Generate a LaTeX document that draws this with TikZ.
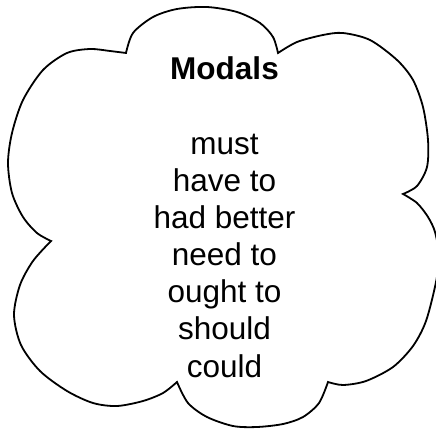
\documentclass[tikz,border=0pt]{standalone}
\usepackage{fontspec}
\setmainfont{Liberation Sans}
\begin{document}
\begin{tikzpicture}[x=1pt,y=-1pt,
  cloudline/.style={draw=black,line width=1.8pt,line join=miter,fill=white},
  modaltext/.style={anchor=base,inner sep=0pt,font=\fontsize{31.5}{37}\selectfont}]
\useasboundingbox (0,0) rectangle (436,428);
\draw[cloudline]
  plot[smooth] coordinates {(126,53) (133,33) (153,17) (177,9) (207,7) (237,12) (260,23) (273,37) (278,53)}
  -- plot[smooth] coordinates {(278,53) (297,42) (323,35) (343,33) (370,40) (397,60) (413,80) (423,107) (428,140) (427,167) (417,186) (403,194)}
  -- plot[smooth] coordinates {(403,194) (417,203) (428,217) (435,232) (439,256) (436,282) (426,321) (413,346) (393,367) (366,381) (343,385) (328,382)}
  -- plot[smooth] coordinates {(328,382) (319,403) (303,417) (283,424) (257,427) (233,426) (207,417) (188,403) (177,382)}
  -- plot[smooth] coordinates {(177,382) (163,393) (143,401) (117,406) (93,403) (67,391) (40,371) (21,345) (14,315) (20,285) (33,261) (51,241)}
  -- plot[smooth] coordinates {(51,241) (37,233) (23,217) (12,193) (8,163) (12,133) (23,100) (43,70) (67,53) (90,49) (110,51) (126,53)}
  -- cycle;
\node[modaltext,font=\fontsize{31.5}{37}\selectfont\bfseries] (title) at (224.5,79.3) {Modals};
\node[modaltext] (m1) at (224.5,154) {must};
\node[modaltext] (m2) at (224.5,191.2) {have to};
\node[modaltext] (m3) at (224.5,228.3) {had better};
\node[modaltext] (m4) at (224.5,265.5) {need to};
\node[modaltext] (m5) at (224.5,302.7) {ought to};
\node[modaltext] (m6) at (224.5,339.8) {should};
\node[modaltext] (m7) at (224.5,377) {could};
\end{tikzpicture}
\end{document}
